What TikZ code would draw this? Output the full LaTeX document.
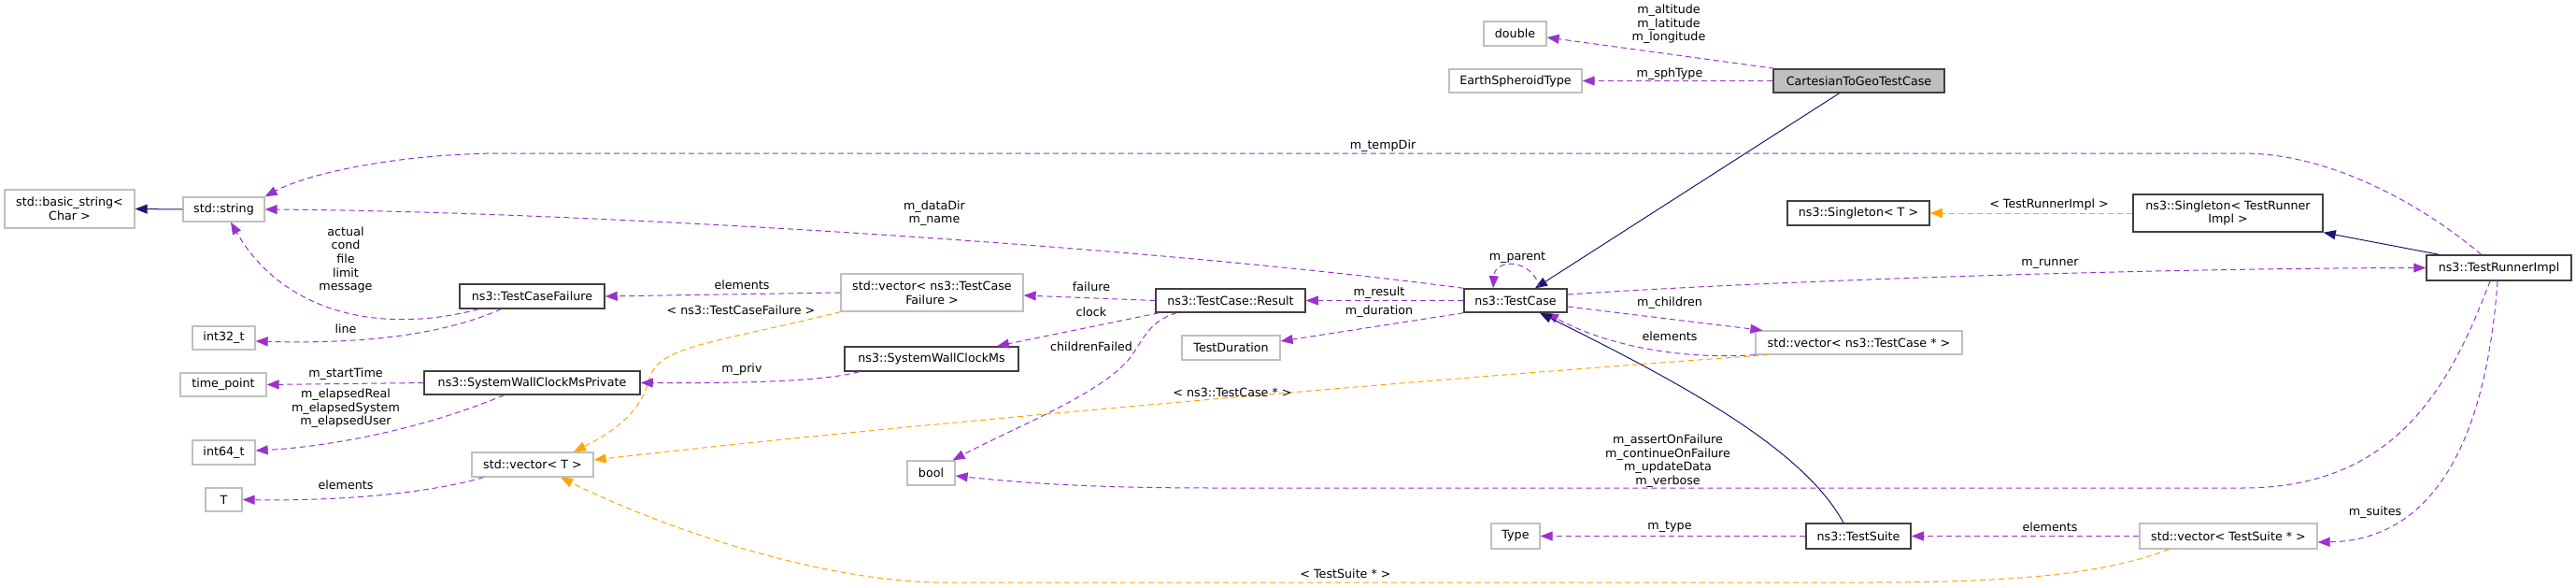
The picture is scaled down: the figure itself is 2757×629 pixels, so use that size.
\documentclass[tikz,border=0pt]{standalone}
\usepackage{fontspec}
\setmainfont{DejaVu Sans}
\usetikzlibrary{arrows.meta}
\definecolor{pur}{HTML}{9A32CD}
\definecolor{orng}{HTML}{FFA500}
\definecolor{navy}{HTML}{191970}
\definecolor{gb}{HTML}{BFBFBF}
\definecolor{db}{HTML}{404040}
\begin{document}
\begin{tikzpicture}[x=1pt,y=-1pt,
  font=\fontsize{12.7}{14.6}\selectfont,
  box/.style={draw=gb, line width=1.3pt, fill=white, inner sep=0pt, align=center},
  cls/.style={draw=db, line width=1.5pt, fill=white, inner sep=0pt, align=center},
  mem/.style={draw=pur, line width=1pt, dash pattern=on 6pt off 4pt, -{Triangle[length=13pt,width=10pt]}, pur},
  tpl/.style={draw=orng, line width=1pt, dash pattern=on 6pt off 4pt, -{Triangle[length=13pt,width=10pt]}, orng},
  inh/.style={draw=navy, line width=1pt, -{Triangle[length=13pt,width=10pt]}, navy},
  lbl/.style={inner sep=0pt, align=center, text=black}]
\useasboundingbox (0,0) rectangle (2757,629);
% nodes
\node[box, minimum width=67pt, minimum height=26pt] (dbl) at (1621.5,36) {double};
\node[box, minimum width=142pt, minimum height=25pt] (est) at (1622,86.5) {EarthSpheroidType};
\node[cls, fill=gb, minimum width=183pt, minimum height=25pt] (ctg) at (1989.5,86.5) {CartesianToGeoTestCase};
\node[box, minimum width=139pt, minimum height=41pt] (bstr) at (74.5,223.5) {std::basic\_string<\\Char >};
\node[box, minimum width=87pt, minimum height=26pt] (str) at (239.5,224) {std::string};
\node[cls, minimum width=155pt, minimum height=26pt] (tcf) at (569.5,317) {ns3::TestCaseFailure};
\node[box, minimum width=67pt, minimum height=25pt] (i32) at (239.5,361.5) {int32\_t};
\node[box, minimum width=92pt, minimum height=25pt] (tp) at (239,411.5) {time\_point};
\node[cls, minimum width=231pt, minimum height=25pt] (swcp) at (569.5,409.5) {ns3::SystemWallClockMsPrivate};
\node[box, minimum width=67pt, minimum height=26pt] (i64) at (239.5,484) {int64\_t};
\node[box, minimum width=39pt, minimum height=25pt] (T) at (239.5,534.5) {T};
\node[box, minimum width=130pt, minimum height=26pt] (vT) at (570,497) {std::vector< T >};
\node[box, minimum width=51pt, minimum height=26pt] (bool) at (996.5,506) {bool};
\node[box, minimum width=195pt, minimum height=40pt] (vtcf) at (997.5,313) {std::vector< ns3::TestCase\\Failure >};
\node[cls, minimum width=160pt, minimum height=25pt] (res) at (1317,321.5) {ns3::TestCase::Result};
\node[cls, minimum width=186pt, minimum height=26pt] (swc) at (997,384) {ns3::SystemWallClockMs};
\node[box, minimum width=105pt, minimum height=26pt] (tdur) at (1317.5,372) {TestDuration};
\node[cls, minimum width=110pt, minimum height=25pt] (tc) at (1622,321.5) {ns3::TestCase};
\node[box, minimum width=221pt, minimum height=25pt] (vtc) at (1989.5,366.5) {std::vector< ns3::TestCase * >};
\node[cls, minimum width=152pt, minimum height=26pt] (sgT) at (1989,228) {ns3::Singleton< T >};
\node[cls, minimum width=203pt, minimum height=40pt] (sgR) at (2384.5,228) {ns3::Singleton< TestRunner\\Impl >};
\node[cls, minimum width=155pt, minimum height=27pt] (tri) at (2674.5,286.5) {ns3::TestRunnerImpl};
\node[box, minimum width=52pt, minimum height=27pt] (type) at (1622,573.5) {Type};
\node[cls, minimum width=112pt, minimum height=27pt] (ts) at (1989,573.5) {ns3::TestSuite};
\node[box, minimum width=190pt, minimum height=27pt] (vts) at (2385,573.5) {std::vector< TestSuite * >};
% edges
\draw[mem] ([xshift=2pt]ctg.north west) -- ([yshift=-4pt]dbl.east);
\draw[mem] (ctg.west) -- (est.east);
\draw[inh] ([xshift=-21pt]ctg.south) -- ([xshift=21pt]tc.north);
\draw[inh] (str.west) -- (bstr.east);
\draw[mem] ([xshift=-19pt]tri.north) .. controls (2600,225) and (2500,164) .. (2400,164) -- (540,164) .. controls (430,164) and (330,185) .. (str.north east);
\draw[mem] (tc.north west) .. controls (1200,260) and (600,226) .. (str.east);
\draw[mem] ([xshift=21pt]tcf.south west) .. controls (400,360) and (300,330) .. ([xshift=7.5pt]str.south);
\draw[mem] ([xshift=45pt]tcf.south west) .. controls (470,360) and (380,368) .. ([yshift=-3.5pt]i32.east);
\draw[mem] (vtcf.west) -- (tcf.east);
\draw[tpl] (vtcf.south west) .. controls (760,368) and (705,370) .. (695,405) .. controls (685,445) and (650,465) .. ([xshift=44pt]vT.north);
\draw[mem] (res.west) -- ([yshift=-3pt]vtcf.east);
\draw[mem] ([xshift=4pt]res.south west) -- ([xshift=70pt]swc.north);
\draw[mem] ([xshift=23pt]res.south west) .. controls (1225,345) and (1222,370) .. (1205,388) .. controls (1170,425) and (1080,460) .. ([xshift=-3pt]bool.north east);
\draw[mem] (tc.west) -- (res.east);
\draw[mem] (tc.south west) -- ([yshift=7pt]tdur.east);
\draw[mem] ([xshift=26pt]tc.north) .. controls (1640,276) and (1600,276) .. ([xshift=-24pt]tc.north);
\draw[mem] ([yshift=-6.5pt]tc.east) -- ([xshift=8pt]vtc.north west);
\draw[mem] (vtc.south west) .. controls (1800,385) and (1720,370) .. ([xshift=33pt]tc.south);
\draw[tpl] ([xshift=14pt]vtc.south west) .. controls (1600,400) and (1000,450) .. ([yshift=5pt]vT.east);
\draw[mem] ([yshift=6.5pt]tc.east) .. controls (1900,300) and (2300,287) .. (tri.west);
\draw[tpl] (sgR.west) -- (sgT.east);
\draw[inh] ([xshift=14pt]tri.north west) -- (sgR.south east);
\draw[mem] ([xshift=-9.5pt]tri.south) .. controls (2620,420) and (2560,522) .. (2400,522) -- (1300,522) .. controls (1150,522) and (1080,515) .. ([yshift=-3pt]bool.east);
\draw[mem] ([xshift=-1.5pt]tri.south) .. controls (2660,480) and (2600,578) .. ([yshift=-6.5pt]vts.east);
\draw[mem] (vts.west) -- (ts.east);
\draw[mem] (ts.west) -- (type.east);
\draw[inh] ([xshift=-16pt]ts.north) .. controls (1930,480) and (1800,410) .. ([xshift=26pt]tc.south);
\draw[tpl] ([xshift=32pt]vts.south west) .. controls (2250,615) and (2150,623) .. (2000,623) -- (1000,623) .. controls (880,620) and (720,570) .. ([xshift=30pt]vT.south);
\draw[mem] ([xshift=16pt]swc.south west) .. controls (880,408) and (800,410) .. (swcp.east);
\draw[mem] (swcp.west) -- (tp.east);
\draw[mem] ([xshift=86pt]swcp.south west) .. controls (450,460) and (350,478) .. ([yshift=2pt]i64.east);
\draw[mem] ([xshift=13pt]vT.south west) .. controls (450,530) and (350,536) .. (T.east);
% labels
\node[lbl] (l1) at (1786,26) {m\_altitude\\m\_latitude\\m\_longitude};
\node[lbl] (l2) at (1787,79) {m\_sphType};
\node[lbl] (l5) at (1480,156) {m\_tempDir};
\node[lbl] (l6) at (1000,228) {m\_dataDir\\m\_name};
\node[lbl] (l7) at (370,278) {actual\\cond\\file\\limit\\message};
\node[lbl] (l8) at (370,352) {line};
\node[lbl] (l9) at (794,305) {elements};
\node[lbl] (l10) at (793,332) {< ns3::TestCaseFailure >};
\node[lbl] (l11) at (1168,307) {failure};
\node[lbl] (l12) at (1168,334) {clock};
\node[lbl] (l13) at (1168,371) {childrenFailed};
\node[lbl] (l14) at (1476,313) {m\_result};
\node[lbl] (l15) at (1476,333) {m\_duration};
\node[lbl] (l16) at (1624,276) {m\_parent};
\node[lbl] (l17) at (1787,324) {m\_children};
\node[lbl] (l18) at (1787,360) {elements};
\node[lbl] (l19) at (1319,420) {< ns3::TestCase * >};
\node[lbl] (l20) at (2194,282) {m\_runner};
\node[lbl] (l21) at (2193,219) {< TestRunnerImpl >};
\node[lbl] (l23) at (1785,493) {m\_assertOnFailure\\m\_continueOnFailure\\m\_updateData\\m\_verbose};
\node[lbl] (l24) at (2542,548) {m\_suites};
\node[lbl] (l25) at (2194,564) {elements};
\node[lbl] (l26) at (1787,564) {m\_type};
\node[lbl] (l28) at (1440,614) {< TestSuite * >};
\node[lbl] (l29) at (794,395) {m\_priv};
\node[lbl] (l30) at (370,400) {m\_startTime};
\node[lbl] (l31) at (370,437) {m\_elapsedReal\\m\_elapsedSystem\\m\_elapsedUser};
\node[lbl] (l32) at (370,519) {elements};
\end{tikzpicture}
\end{document}
